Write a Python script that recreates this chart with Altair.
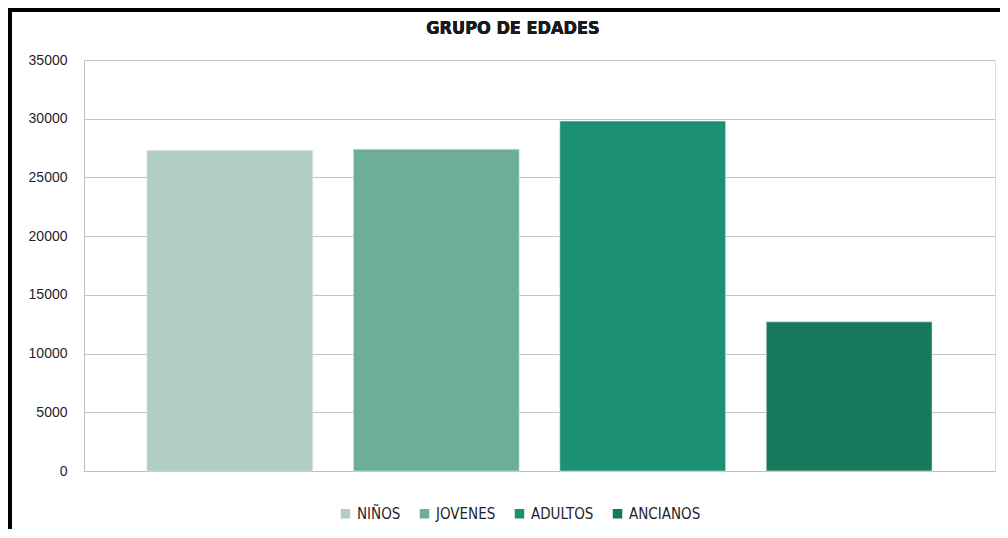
import altair as alt
import pandas as pd

categories = ["NIÑOS", "JOVENES", "ADULTOS", "ANCIANOS"]
values = [27300, 27400, 29800, 12700]
colors = ["#b1cec2", "#6daf96", "#1b9073", "#16785c"]
y_ticks = [0, 5000, 10000, 15000, 20000, 25000, 30000, 35000]
title_text = "GRUPO DE EDADES"

df = pd.DataFrame({"grupo": categories, "valor": values})

FONT_NARROW = "Liberation Sans Narrow, DejaVu Sans Condensed, Roboto, sans-serif"
FONT_AXIS = "Liberation Sans, Arial, sans-serif"

bars = alt.Chart(df).mark_bar(stroke="#d8e8e0", strokeWidth=0.6).encode(
    x=alt.X(
        "grupo:N",
        sort=categories,
        scale=alt.Scale(paddingInner=0.197, paddingOuter=0.305),
        axis=alt.Axis(labels=False, ticks=False, title=None, domain=True,
                      domainColor="#bfbfbf", grid=False),
    ),
    y=alt.Y(
        "valor:Q",
        scale=alt.Scale(domain=[0, 35000], nice=False),
        axis=alt.Axis(values=y_ticks, format="d", title=None, ticks=False, labelPadding=17,
                      labelFont=FONT_AXIS, labelFontSize=14, labelColor="#1f1f2e",
                      labelFontWeight=500,
                      gridColor="#c4c4c4", gridWidth=1, domainColor="#bfbfbf"),
    ),
    color=alt.Color(
        "grupo:N",
        sort=categories,
        scale=alt.Scale(domain=categories, range=colors),
        legend=alt.Legend(
            title=None, orient="none", direction="horizontal",
            legendX=254, legendY=446,
            symbolType="square", symbolSize=90, symbolStrokeWidth=0,
            labelFont=FONT_NARROW, labelFontSize=15, labelColor="#1f1f2e",
            labelFontWeight=500,
            labelOffset=4, columnPadding=16,
        ),
    ),
)

title_mark = alt.Chart(df).mark_text(
    font=FONT_NARROW, fontSize=18, fontWeight="bold", color="#1a1a1a",
    align="center", baseline="alphabetic"
).encode(x=alt.value(429), y=alt.value(-26), text=alt.value(title_text))

frame_left = alt.Chart(df).mark_rule(color="black", strokeWidth=4).encode(
    x=alt.value(-74), y=alt.value(-52), y2=alt.value(480)
)
frame_top = alt.Chart(df).mark_rule(color="black", strokeWidth=4).encode(
    x=alt.value(-76), x2=alt.value(924), y=alt.value(-50)
)

chart = alt.layer(bars, title_mark, frame_left, frame_top).properties(
    width=911,
    height=411,
    padding={"left": 76, "top": 52, "right": 5, "bottom": 58},
    autosize=alt.AutoSizeParams(type="none"),
).configure_view(stroke=None).configure(background="white")

chart.save("out.html", embed_options={"renderer": "svg", "actions": False})
